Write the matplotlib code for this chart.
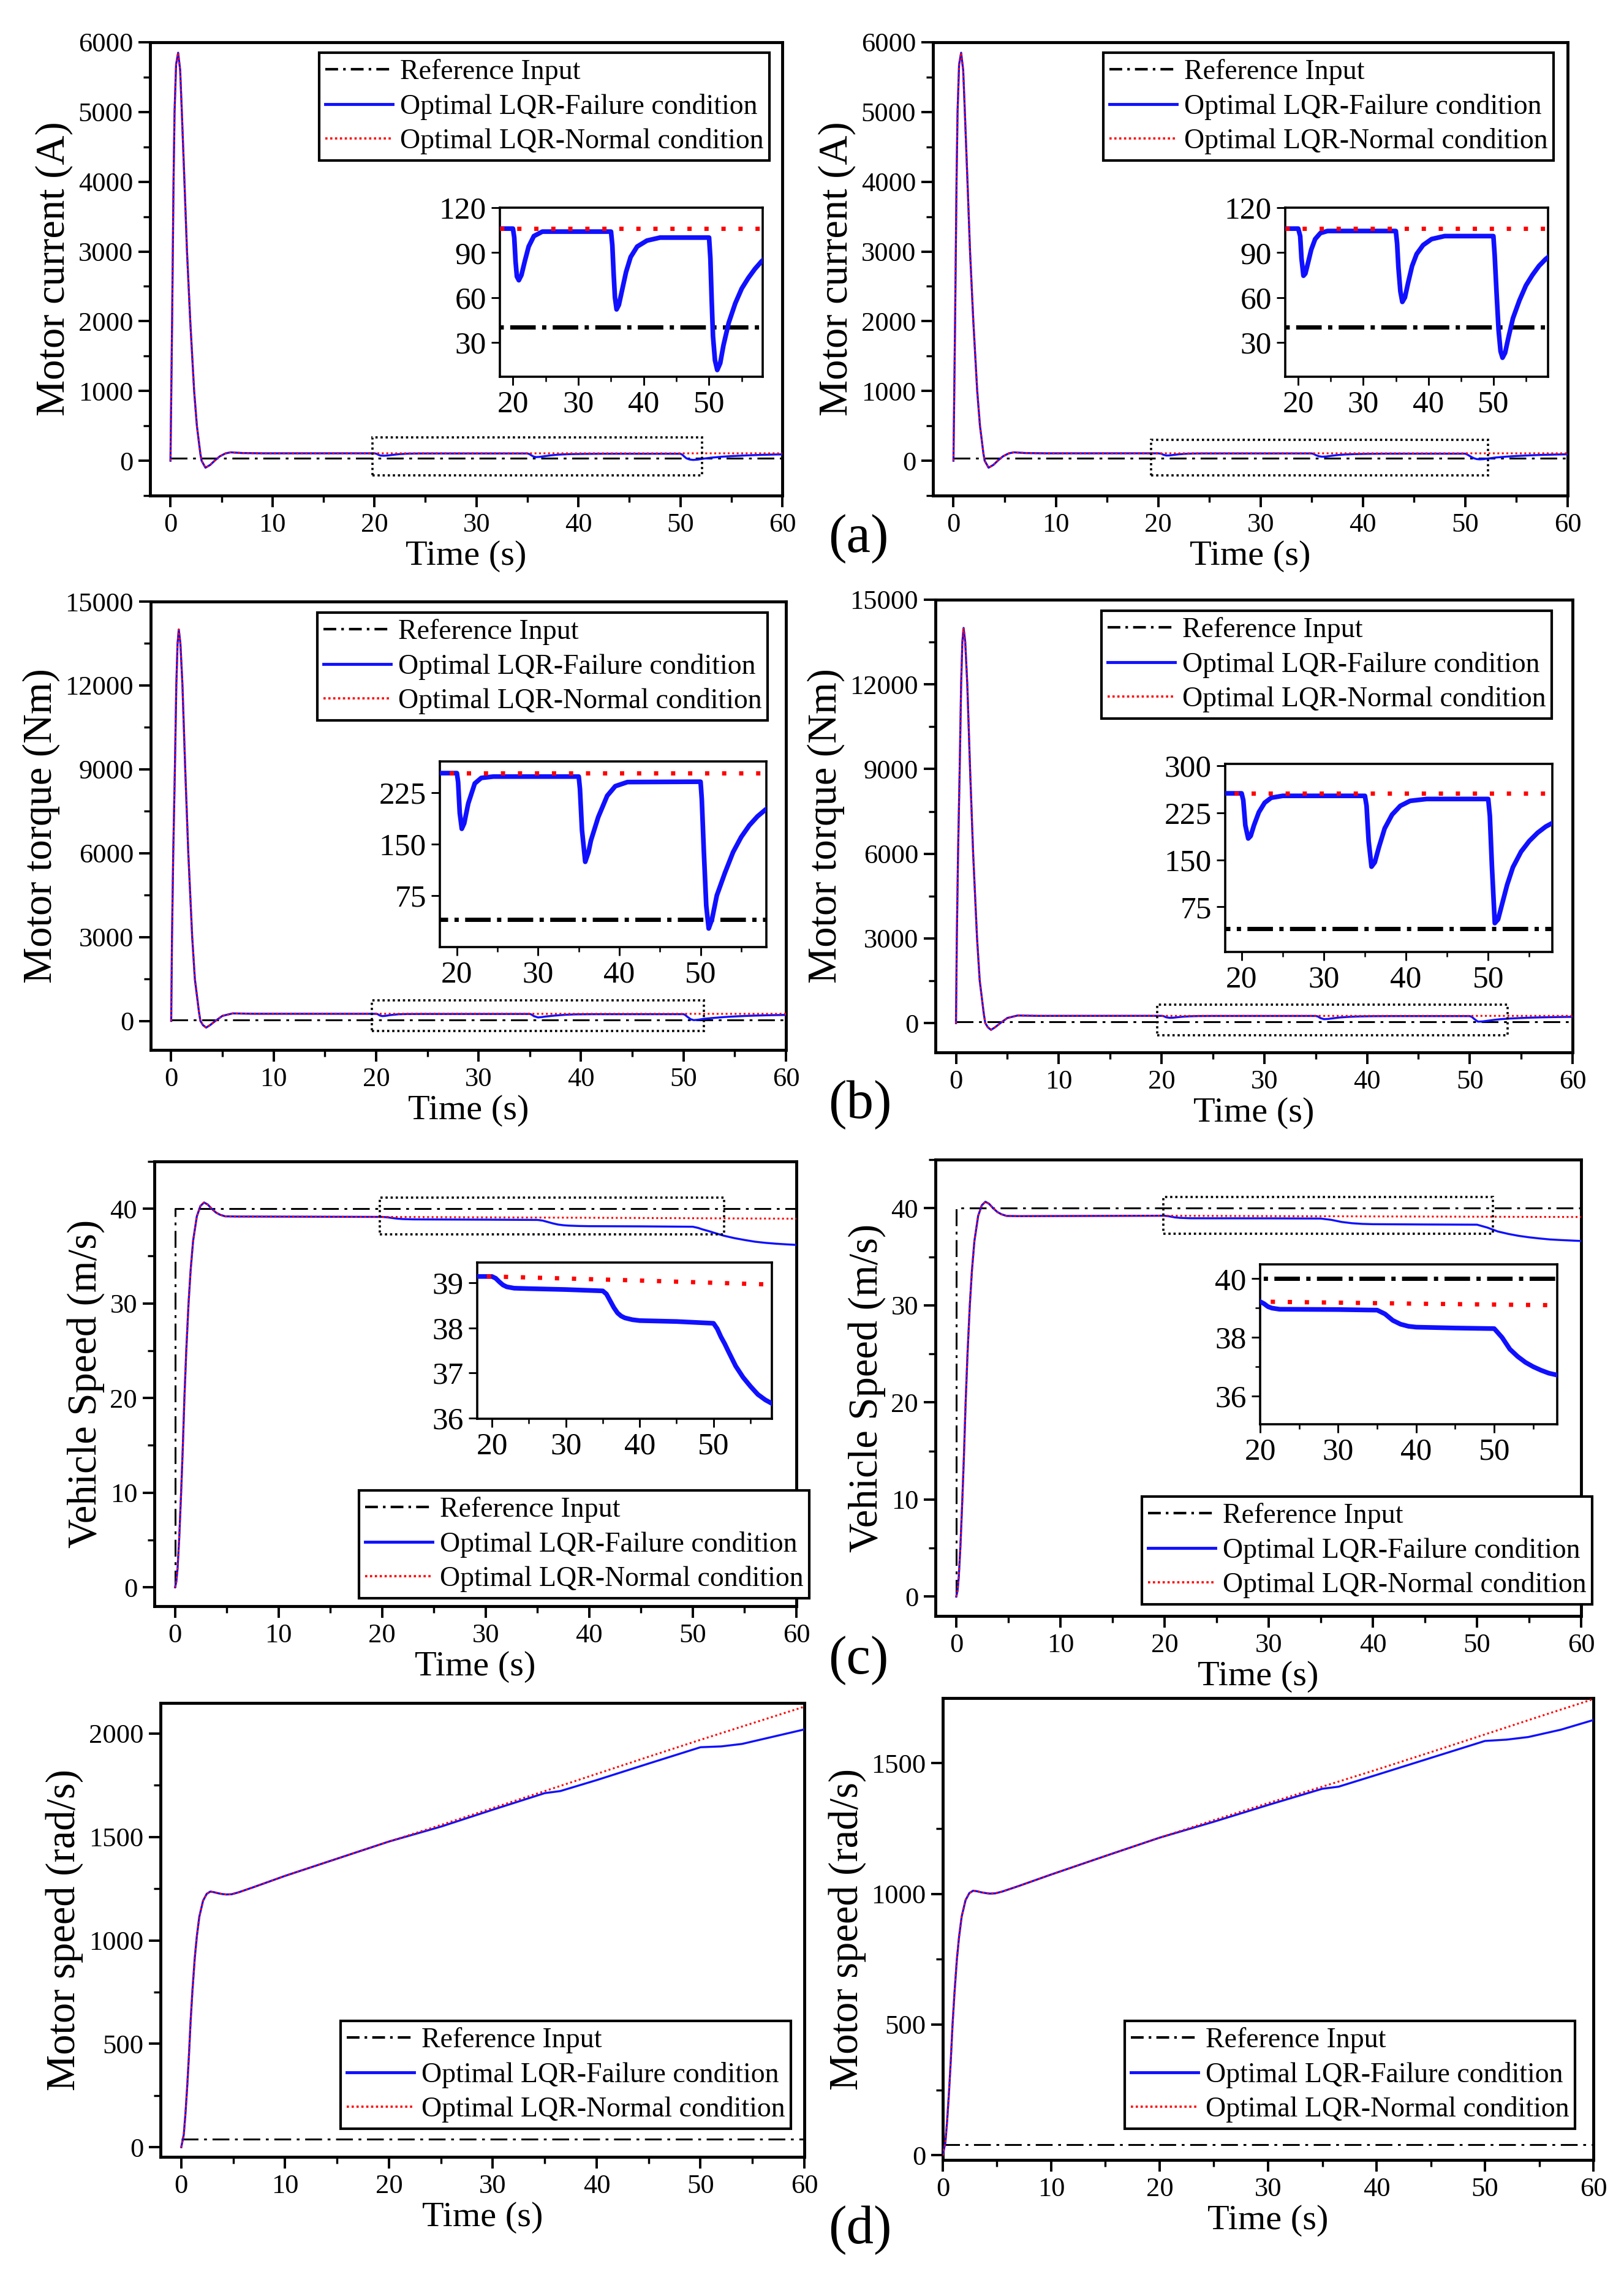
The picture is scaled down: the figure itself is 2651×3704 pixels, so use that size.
import matplotlib
matplotlib.use("Agg")
import matplotlib.pyplot as plt
from matplotlib.lines import Line2D
from matplotlib.patches import Rectangle
from matplotlib.ticker import MultipleLocator

plt.rcParams["font.family"] = ["Liberation Serif", "DejaVu Serif"]

# ---------------- data ----------------
labels = ["Reference Input", "Optimal LQR-Failure condition", "Optimal LQR-Normal condition"]
t_ref = [0, 60]
ref_level = 40

# (a) motor current, start-up transient (same for both controllers)
t_rise_i = [0, 0.08, 0.16, 0.3, 0.4, 0.55, 0.75, 0.95, 1.1, 1.37, 1.62, 1.94, 2.32, 2.59, 2.93, 3.05,
            3.43, 3.9, 4.4, 4.85, 5.4, 5.9, 7.0, 9.0]
i_rise = [0, 1000, 2000, 4000, 5000, 5680, 5850, 5600, 5050, 4000, 3000, 2000, 1000, 500, 100, 0,
          -100, -60, 10, 64, 105, 120, 110, 106]
i_normal = 106
t_fail_i_l = [20.0, 20.2, 20.4, 20.6, 20.9, 21.3, 21.8, 22.4, 23.2, 24.5, 35.0, 35.2, 35.4, 35.6, 35.85,
              36.2, 36.7, 37.3, 38.0, 39.0, 40.5, 42.5, 50.0, 50.2, 50.4, 50.6, 50.9, 51.25, 51.7, 52.2,
              53.0, 54.0, 55.0, 56.0, 57.0, 58.0, 59.0, 60.0]
i_fail_l = [106, 100, 84, 74, 71.5, 75, 84, 94, 101, 104, 104, 95, 76, 60, 52,
            55, 65, 77, 87, 94, 98, 100, 100, 86, 58, 34, 18, 11.5, 16, 28,
            43, 56, 66, 73, 79, 84, 88, 91]
t_fail_i_r = [20.0, 20.3, 20.5, 20.8, 21.1, 21.5, 22.0, 22.6, 23.4, 24.5, 35.0, 35.2, 35.4, 35.7, 36.0,
              36.4, 36.9, 37.5, 38.2, 39.2, 40.5, 42.5, 50.0, 50.2, 50.5, 50.8, 51.1, 51.4, 51.8, 52.3,
              53.0, 54.0, 55.0, 56.0, 57.0, 58.0, 59.0, 60.0]
i_fail_r = [106, 101, 86, 74.5, 76, 83, 92, 99, 103, 104.4, 104.4, 96, 80, 64, 57,
            60, 70, 81, 89, 95, 99, 101, 101, 88, 62, 38, 24, 19.7, 23, 33,
            46, 58, 68, 75, 81, 85.5, 89, 92]

# (b) motor torque
t_rise_T = [0, 0.08, 0.2, 0.36, 0.5, 0.62, 0.74, 0.9, 1.1, 1.37, 1.67, 2.05, 2.31, 2.71, 2.85, 3.1,
            3.41, 3.8, 4.32, 5.0, 6.0, 8.0]
T_rise = [0, 3000, 6000, 9000, 12000, 13500, 14000, 13500, 12000, 9000, 6000, 3000, 1500, 320, 0, -150,
          -240, -150, 0, 180, 268, 255]
T_normal_l = 253
T_normal_r = 256
t_fail_T_l = [20.0, 20.15, 20.35, 20.6, 20.9, 21.4, 22.2, 23.0, 24.5, 35.0, 35.15, 35.4, 35.8, 36.2,
              36.5, 37.4, 38.5, 39.5, 41.0, 50.0, 50.15, 50.4, 50.7, 51.0, 51.4, 52.0, 53.0, 54.0,
              55.0, 56.0, 57.0, 58.0, 59.0, 60.0]
T_fail_l = [253, 240, 195, 172, 180, 209, 238, 246, 248, 248, 230, 170, 124, 138,
            155, 189, 220, 234, 240, 240.5, 215, 140, 60, 27, 40, 75, 108, 138,
            160, 177, 190, 200, 208, 214]
t_fail_T_r = [20.0, 20.2, 20.45, 20.8, 21.1, 21.5, 22.1, 22.8, 23.6, 25.0, 35.0, 35.2, 35.45, 35.8,
              36.2, 36.7, 37.4, 38.3, 39.3, 40.5, 42.5, 50.0, 50.2, 50.45, 50.8, 51.2, 51.7, 52.3,
              53.0, 54.0, 55.0, 56.0, 57.0, 58.0, 59.0, 60.0]
T_fail_r = [256, 245, 205, 184, 188, 205, 226, 241, 249, 252, 252, 236, 180, 139,
            146, 170, 200, 222, 236, 244, 247, 247, 220, 140, 49, 55, 80, 110,
            138, 163, 180, 193, 203, 210, 216, 221]

# (c) vehicle speed
t_step_ref = [0, 0, 60]
v_step_ref = [0, 40, 40]
t_rise_v = [0, 0.12, 0.24, 0.4, 0.58, 0.74, 0.9, 1.08, 1.3, 1.5, 1.74, 2.1, 2.45, 2.8, 3.15, 3.54,
            3.95, 4.34, 4.84, 6.0]
v_rise = [0, 0.6, 2.0, 5.2, 9.9, 14.6, 20, 25, 30, 33.5, 36.6, 39.2, 40.3, 40.66, 40.45, 40.0,
          39.6, 39.37, 39.2, 39.18]
t_norm_v = [20, 40, 60]
v_norm_l = [39.14, 39.05, 38.95]
v_norm_r = [39.22, 39.15, 39.09]
t_fail_v_l = [20, 20.5, 21, 21.5, 22, 23, 25, 30, 35, 35.5, 36, 36.5, 37, 37.5, 38, 39, 40, 45, 50,
              50.5, 51, 51.5, 52, 53, 54, 55, 56, 57, 58, 59, 60]
v_fail_l = [39.14, 39.1, 39.02, 38.95, 38.91, 38.88, 38.87, 38.85, 38.82, 38.75, 38.6, 38.45, 38.33,
            38.26, 38.22, 38.18, 38.16, 38.14, 38.1, 37.98, 37.8, 37.65, 37.48, 37.15, 36.9, 36.7,
            36.52, 36.4, 36.31, 36.24, 36.18]
t_fail_v_r = [20, 20.5, 21, 21.5, 22.5, 30, 35, 36, 37, 38, 39, 40, 45, 50, 51, 52, 53, 54, 55, 56,
              57, 58, 59, 60]
v_fail_r = [39.22, 39.15, 39.05, 39.0, 38.96, 38.95, 38.93, 38.8, 38.58, 38.45, 38.38, 38.35, 38.32,
            38.3, 38.0, 37.6, 37.35, 37.15, 37.0, 36.88, 36.78, 36.72, 36.67, 36.62]

# (d) motor speed
t_w = [0, 0.24, 0.4, 0.58, 0.74, 0.9, 1.08, 1.3, 1.5, 1.74, 2.1, 2.45, 2.8, 3.15, 3.54, 3.95, 4.34,
       4.84, 5.5, 7, 10, 15, 20, 25, 30, 35, 40, 45, 50, 55, 60]
w_norm_l = [0, 60, 160, 300, 445, 610, 760, 915, 1020, 1115, 1192, 1225, 1236, 1233, 1228, 1224, 1222,
            1223, 1232, 1258, 1312, 1395, 1478, 1558, 1640, 1722, 1805, 1888, 1970, 2050, 2130]
w_norm_r = [0, 49, 131, 246, 365, 500, 622, 750, 835, 913, 976, 1003, 1012, 1010, 1006, 1003, 1001,
            1002, 1009, 1030, 1074, 1145, 1215, 1282, 1347, 1410, 1475, 1542, 1610, 1678, 1745]
t_fail_w = [20, 25, 30, 35, 36.5, 40, 45, 50, 52, 54, 57, 60]
w_fail_l = [1478, 1550, 1632, 1712, 1722, 1775, 1855, 1934, 1938, 1950, 1985, 2020]
w_fail_r = [1215, 1276, 1340, 1402, 1410, 1455, 1520, 1585, 1590, 1600, 1628, 1665]

# ---------------- layout ----------------
W, H = 2651, 3704
fig = plt.figure(figsize=(W / 100, H / 100), dpi=100)

REF_MAIN = (9, 3, 1.5, 3)
REF_INS = (6, 1.5, 1, 1.5)
DOT_MAIN = (1, 1.4)
DOT_INS = (1, 3)


def frac(x0, x1, y0, y1):
    return [x0 / W, 1 - y1 / H, (x1 - x0) / W, (y1 - y0) / H]


def style(ax, size, spine_w, tick_len):
    for s in ax.spines.values():
        s.set_linewidth(spine_w)
    ax.tick_params(which="major", direction="out", length=tick_len, width=spine_w * 0.8,
                   labelsize=size, top=False, right=False, pad=6)
    ax.tick_params(which="minor", direction="out", length=tick_len * 0.55, width=spine_w * 0.7,
                   top=False, right=False)


def main_axes(rect, ylim, ymaj, ymin, ylabel, xmin=-2.0):
    ax = fig.add_axes(frac(*rect))
    ax.set_xlim(xmin, 60)
    ax.set_ylim(*ylim)
    ax.xaxis.set_major_locator(MultipleLocator(10))
    ax.xaxis.set_minor_locator(MultipleLocator(5))
    ax.yaxis.set_major_locator(MultipleLocator(ymaj))
    ax.yaxis.set_minor_locator(MultipleLocator(ymin))
    style(ax, 32, 3.5, 14)
    ax.set_xlabel("Time (s)", fontsize=42, labelpad=4)
    ax.set_ylabel(ylabel, fontsize=48, labelpad=6)
    return ax


def curves(ax, tr, yr, tf, yf, tn, yn, lw, ref_dash, dot):
    ax.plot(tr, yr, color="black", lw=lw, dashes=ref_dash, zorder=2)
    ax.plot(tf, yf, color="#1010ff", lw=lw * 1.1, zorder=3)
    ax.plot(tn, yn, color="red", lw=lw, dashes=dot, zorder=4)


def inset(rect, xlim, ylim, yticks, yminor=None):
    ax = fig.add_axes(frac(*rect))
    ax.set_xlim(*xlim)
    ax.set_ylim(*ylim)
    ax.set_xticks([20, 30, 40, 50])
    ax.xaxis.set_minor_locator(MultipleLocator(5))
    ax.set_yticks(yticks)
    if yminor:
        ax.yaxis.set_minor_locator(MultipleLocator(yminor))
    style(ax, 37, 2.6, 10)
    return ax


def box(ax, x0, x1, y0, y1):
    ax.add_patch(Rectangle((x0, y0), x1 - x0, y1 - y0, fill=False, ls=(0, (1, 1.3)),
                           lw=2.6, ec="black", zorder=5))


def legend(ax, x0, y0):
    handles = [Line2D([], [], color="black", lw=3, dashes=(5, 2, 1, 2)),
               Line2D([], [], color="#1010ff", lw=3.5),
               Line2D([], [], color="red", lw=2.6, dashes=(1, 1.2))]
    leg = ax.legend(handles, labels, loc="upper left", bbox_to_anchor=(x0 / W, 1 - y0 / H),
                    bbox_transform=fig.transFigure, fontsize=33, frameon=True, fancybox=False,
                    edgecolor="black", framealpha=1, borderpad=0.22, handlelength=2.4,
                    handletextpad=0.25, labelspacing=0.3, borderaxespad=0)
    leg.get_frame().set_linewidth(3)


# (a) motor current
for rect, tf, yf, ins_rect, ins_x, bx, leg_xy in [
        ((245, 1277, 69, 809), t_fail_i_l, i_fail_l, (816, 1245, 339, 615), (18, 58.2),
         (19.8, 52.1, -207, 336), (521, 86)),
        ((1523, 2559, 69, 809), t_fail_i_r, i_fail_r, (2098, 2527, 339, 615), (18, 58.4),
         (19.3, 52.2, -207, 300), (1801, 86))]:
    ax = main_axes(rect, (-500, 6000), 1000, 500, "Motor current (A)")
    curves(ax, t_ref, [ref_level] * 2, t_rise_i + tf, i_rise + yf, t_rise_i + [60],
           i_rise + [i_normal], 2.2, REF_MAIN, DOT_MAIN)
    box(ax, *bx)
    legend(ax, *leg_xy)
    ai = inset(ins_rect, ins_x, (7, 120), [30, 60, 90, 120])
    curves(ai, t_ref, [ref_level] * 2, [18] + tf, [i_normal] + yf, [18, 60], [i_normal] * 2,
           5, REF_INS, DOT_INS)

# (b) motor torque
for rect, tf, yf, tnorm, ins_rect, ins_x, ins_y, yt, bx, leg_xy in [
        ((246, 1283, 982, 1714), t_fail_T_l, T_fail_l, T_normal_l, (718, 1251, 1243, 1546),
         (17.9, 58.1), (0, 270), [75, 150, 225], (19.6, 52.0, -362, 737), (518, 1000)),
        ((1527, 2567, 979, 1718), t_fail_T_r, T_fail_r, T_normal_r, (2000, 2534, 1247, 1554),
         (18, 57.8), (3, 303), [75, 150, 225, 300], (19.6, 53.7, -430, 644), (1798, 997))]:
    ax = main_axes(rect, (-1040, 15000), 3000, 1500, "Motor torque (Nm)")
    curves(ax, t_ref, [ref_level] * 2, t_rise_T + tf, T_rise + yf, t_rise_T + [60],
           T_rise + [tnorm], 2.2, REF_MAIN, DOT_MAIN)
    box(ax, *bx)
    legend(ax, *leg_xy)
    ai = inset(ins_rect, ins_x, ins_y, yt)
    curves(ai, t_ref, [ref_level] * 2, [17] + tf, [tnorm] + yf, [17, 60], [tnorm] * 2,
           5, REF_INS, DOT_INS)

# (c) vehicle speed
for rect, tf, yf, vn, ins_rect, ins_x, ins_y, yt, ymn, bx, leg_xy in [
        ((252, 1300, 1896, 2622), t_fail_v_l, v_fail_l, v_norm_l, (779, 1260, 2061, 2316),
         (18, 57.9), (35.98, 39.45), [36, 37, 38, 39], None, (19.8, 53.0, 37.3, 41.2), (586, 2433)),
        ((1527, 2581, 1893, 2638), t_fail_v_r, v_fail_r, v_norm_r, (2057, 2542, 2064, 2325),
         (20, 58.07), (35.04, 40.49), [36, 38, 40], 1, (19.9, 51.5, 37.35, 41.16), (1864, 2443))]:
    ax = main_axes(rect, (-2, 45), 10, 5, "Vehicle Speed (m/s)")
    curves(ax, t_step_ref, v_step_ref, t_rise_v + tf, v_rise + yf, t_rise_v + t_norm_v,
           v_rise + vn, 2.2, REF_MAIN, DOT_MAIN)
    box(ax, *bx)
    legend(ax, *leg_xy)
    ai = inset(ins_rect, ins_x, ins_y, yt, ymn)
    curves(ai, t_ref, [ref_level] * 2, [17] + tf, [vn[0]] + yf, [17] + t_norm_v, [vn[0]] + vn,
           5, REF_INS, DOT_INS)

# (d) motor speed
for rect, wn, wf, ylim, xmin, leg_xy in [
        ((262, 1313, 2780, 3521), w_norm_l, w_fail_l, (-47, 2148), -2.0, (556, 3299)),
        ((1539, 2601, 2772, 3526), w_norm_r, w_fail_r, (-18, 1749), 0.0, (1836, 3299))]:
    ax = main_axes(rect, ylim, 500, 250, "Motor speed (rad/s)", xmin=xmin)
    t_f = [t for t in t_w if t < 20] + t_fail_w
    w_f = [w for t, w in zip(t_w, wn) if t < 20] + wf
    curves(ax, t_ref, [ref_level] * 2, t_f, w_f, t_w, wn, 2.2, REF_MAIN, DOT_MAIN)
    legend(ax, *leg_xy)

for txt, y in [("(a)", 880), ("(b)", 1804), ("(c)", 2711), ("(d)", 3641)]:
    fig.text(1352 / W, 1 - y / H, txt, fontsize=64, ha="left", va="center")

fig.savefig("out.png", dpi=100)
